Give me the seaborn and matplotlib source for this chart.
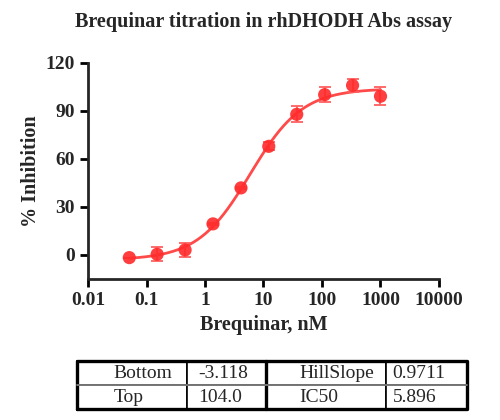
import matplotlib
matplotlib.use("Agg")
import matplotlib.pyplot as plt
import numpy as np
import pandas as pd
import seaborn as sns

# measured points (nM, % inhibition, SD)
conc_nM = [0.0508, 0.152, 0.457, 1.37, 4.12, 12.3, 37.0, 111.0, 333.0, 1000.0]
inhibition = [-1.7, 0.4, 3.1, 19.4, 41.9, 67.9, 87.9, 100.2, 106.0, 99.2]
inhibition_sd = [0.0, 4.5, 4.4, 0.8, 0.8, 2.5, 4.9, 4.7, 4.2, 5.5]

# 4PL fit parameters shown in the table
fit_names = ["Bottom", "Top", "HillSlope", "IC50"]
fit_values = ["-3.118", "104.0", "0.9711", "5.896"]
bottom, top, hill, ic50 = -3.118, 104.0, 0.9711, 5.896

x_ticks = [0.01, 0.1, 1, 10, 100, 1000, 10000]
x_ticklabels = ["0.01", "0.1", "1", "10", "100", "1000", "10000"]
y_ticks = [0, 30, 60, 90, 120]

red = "#ff2a2a"

sns.set_style("ticks")
plt.rcParams["font.family"] = ["Liberation Serif", "DejaVu Serif"]

df = pd.DataFrame({"conc": conc_nM, "inh": inhibition, "sd": inhibition_sd})
x_fit = np.logspace(np.log10(conc_nM[0]), np.log10(conc_nM[-1]), 200)
fit = pd.DataFrame({
    "conc": x_fit,
    "inh": bottom + (top - bottom) / (1 + (ic50 / x_fit) ** hill),
})

fig = plt.figure(figsize=(5, 4.2), dpi=100)
ax = fig.add_axes([0.176, 0.336, 0.702, 0.514])

sns.lineplot(data=fit, x="conc", y="inh", color=red, lw=2, alpha=0.85, ax=ax)
ax.errorbar(df["conc"], df["inh"], yerr=df["sd"], fmt="none",
            ecolor="#ff6060", elinewidth=1.3, capsize=4, capthick=1.3)
sns.scatterplot(data=df, x="conc", y="inh", color=red, s=90, alpha=0.9,
                edgecolor="none", ax=ax, zorder=5)

ax.set_xscale("log")
ax.set_xlim(0.01, 10000)
ax.set_ylim(-15, 120)
ax.set_xticks(x_ticks)
ax.set_xticklabels(x_ticklabels)
ax.minorticks_off()
ax.set_yticks(y_ticks)
ax.tick_params(axis="both", labelsize=14, width=2, length=6, color="black")
for lab in ax.get_xticklabels() + ax.get_yticklabels():
    lab.set_fontweight("bold")
for side in ["left", "bottom"]:
    ax.spines[side].set_linewidth(2)
sns.despine(ax=ax)

ax.set_xlabel("Brequinar, nM", fontsize=14.5, fontweight="bold", labelpad=4)
ax.set_ylabel("% Inhibition", fontsize=14.5, fontweight="bold", labelpad=3)
ax.set_title("Brequinar titration in rhDHODH Abs assay", fontsize=14.5,
             fontweight="bold", pad=26)

# parameter table
tax = fig.add_axes([77 / 500, 1 - 409 / 420, 390 / 500, 48 / 420])
tax.axis("off")
cells = [[fit_names[0], fit_values[0], fit_names[2], fit_values[2]],
         [fit_names[1], fit_values[1], fit_names[3], fit_values[3]]]
widths = [110, 79, 120, 81]
tbl = tax.table(cellText=cells, cellLoc="left", bbox=[0, 0, 1, 1],
                colWidths=[w / sum(widths) for w in widths])
tbl.auto_set_font_size(False)
pads = [0.33, 0.14, 0.28, 0.08]
for (r, c), cell in tbl.get_celld().items():
    cell.set_linewidth(1.2)
    cell.PAD = pads[c]
    cell.get_text().set_fontsize(14)
edge = sum(widths[:2]) / sum(widths)
tax.plot([edge, edge], [0, 1], color="black", lw=2.4, clip_on=False)
tax.plot([0, 1, 1, 0, 0], [0, 0, 1, 1, 0], color="black", lw=2.4, clip_on=False)
tax.plot([0, 1], [0.5, 0.5], color="#888888", lw=1.2, clip_on=False)
tax.set_xlim(0, 1)
tax.set_ylim(0, 1)

fig.savefig("out.png", dpi=100)
